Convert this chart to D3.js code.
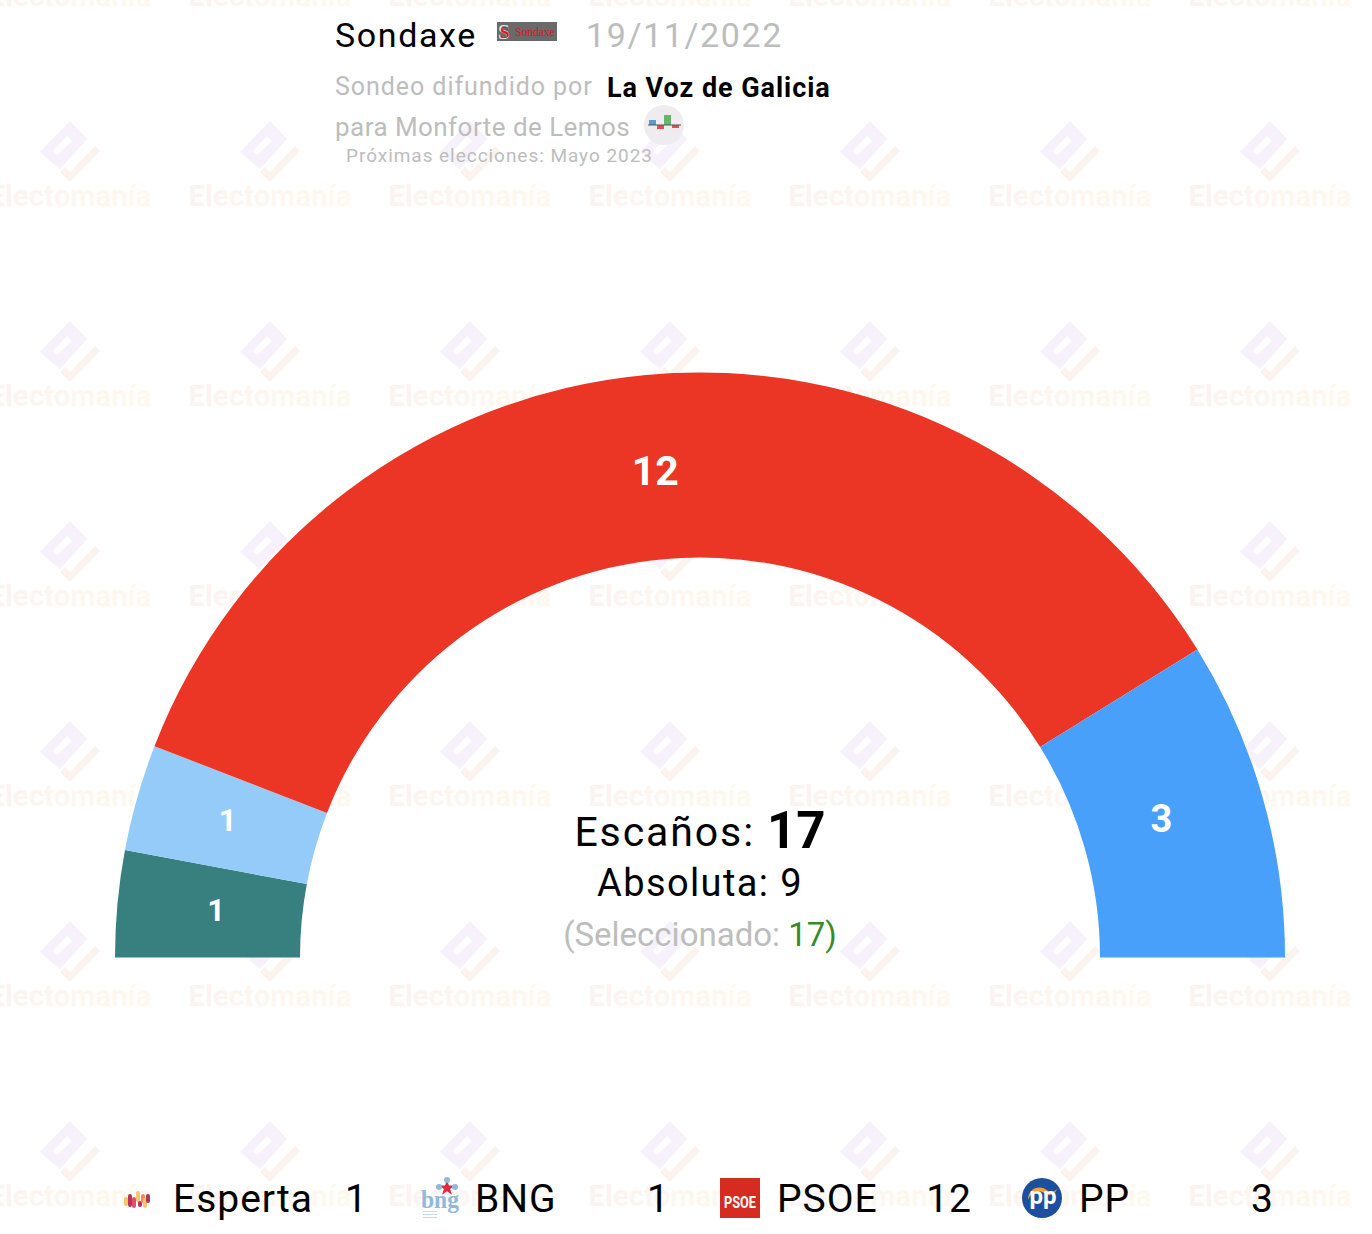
<!DOCTYPE html>
<html>
<head>
<meta charset="utf-8">
<script src="https://cdn.jsdelivr.net/npm/d3@7"></script>
<style>
  html, body { margin: 0; padding: 0; background: #fff; }
  text { font-family: Roboto, sans-serif; }
</style>
</head>
<body>
<div id="chart"></div>
<script>
const parties = ["Esperta", "BNG", "PSOE", "PP"];
const seats = [1, 1, 12, 3];
const partyColors = ["#37807f", "#94cbf9", "#eb3525", "#48a0fb"];
const labelSizes = [31, 31, 41, 38];
const labelNudgeX = [0, -5, 0, -6];
const labelNudgeY = [-3, -5, -3, -6];

const pollster = "Sondaxe";
const pollDate = "19/11/2022";
const media = "La Voz de Galicia";
const place = "para Monforte de Lemos";
const nextElection = "Próximas elecciones: Mayo 2023";
const totalSeats = 17;
const majority = 9;
const selected = 17;

const width = 1372, height = 1234;
const cx = 700, cy = 957.5, outer = 585, inner = 400, labelRadius = 486;

const svg = d3.select("#chart").append("svg")
  .attr("width", width)
  .attr("height", height)
  .style("display", "block");

// watermark gradient
const defs = svg.append("defs");
const grad = defs.append("linearGradient").attr("id", "wm");
grad.append("stop").attr("offset", "0%").attr("stop-color", "#fcf3f1");
grad.append("stop").attr("offset", "100%").attr("stop-color", "#fff8ee");

// watermark tiles
const tileX = d3.range(70, 1400, 200);
const tileY = d3.range(-48, 1234, 200);
const wm = svg.append("g");
tileY.forEach(y => {
  tileX.forEach(x => {
    const t = wm.append("g").attr("transform", `translate(${x},${y})`);
    t.append("path")
      .attr("d", "M0,-31L17,-13L-10,17L-30,0Z M-17,-1L-13,3L2,-11L-3,-16Z")
      .attr("fill", "#f6f1fa")
      .attr("fill-rule", "evenodd");
    t.append("path")
      .attr("d", "M25,-6L30,-1L0,30L-10,20L-5,15L0,20Z")
      .attr("fill", "#fcf3ef");
    t.append("text")
      .attr("y", 54)
      .attr("text-anchor", "middle")
      .attr("font-size", 29)
      .attr("font-weight", 700)
      .attr("letter-spacing", 0.2)
      .attr("fill", "url(#wm)")
      .text("Electomanía");
  });
});

// header
const head = svg.append("g");
head.append("text").attr("x", 335).attr("y", 47).attr("font-size", 34).attr("letter-spacing", 1.6).text(pollster);
head.append("rect").attr("x", 497).attr("y", 22).attr("width", 60).attr("height", 19).attr("fill", "#6a6a6a");
head.append("text").attr("x", 498).attr("y", 39).attr("font-size", 21).attr("font-weight", 700)
  .style("font-family", "Liberation Serif").attr("fill", "#e3e0e0").text("S");
head.append("text").attr("x", 500).attr("y", 38).attr("font-size", 17).attr("font-weight", 700)
  .style("font-family", "Liberation Serif").attr("fill", "#cf2026").text("S");
head.append("text").attr("x", 515).attr("y", 36).attr("font-size", 11.5)
  .style("font-family", "Liberation Serif").attr("fill", "#c8201f").text(pollster);
head.append("text").attr("x", 586).attr("y", 47).attr("font-size", 34).attr("letter-spacing", 1.6).attr("fill", "#bdbdbd").text(pollDate);
head.append("text").attr("x", 335).attr("y", 95).attr("font-size", 25).attr("letter-spacing", 0.95).attr("fill", "#bdbdbd").text("Sondeo difundido por");
head.append("text").attr("x", 607).attr("y", 97).attr("font-size", 27).attr("letter-spacing", 0.95).attr("font-weight", 700).text(media);
head.append("text").attr("x", 335).attr("y", 136).attr("font-size", 26).attr("letter-spacing", 0.45).attr("fill", "#bdbdbd").text(place);
head.append("circle").attr("cx", 664).attr("cy", 125).attr("r", 20).attr("fill", "#eeecee");
[["#5b9bd5", 649, 120, 7, 5], ["#d9534f", 657, 125, 7, 4], ["#62b96b", 664, 115, 7, 10], ["#d9534f", 672, 125, 7, 3]]
  .forEach(b => head.append("rect").attr("fill", b[0]).attr("x", b[1]).attr("y", b[2]).attr("width", b[3]).attr("height", b[4]));
head.append("rect").attr("x", 648).attr("y", 124.5).attr("width", 33).attr("height", 1).attr("fill", "#555");
head.append("text").attr("x", 346).attr("y", 162).attr("font-size", 19).attr("letter-spacing", 0.96).attr("fill", "#bdbdbd").text(nextElection);

// hemicycle
const color = d3.scaleOrdinal().domain(parties).range(partyColors);
const pie = d3.pie().sort(null).value(d => d.seats)
  .startAngle(-Math.PI / 2).endAngle(Math.PI / 2);
const arc = d3.arc().innerRadius(inner).outerRadius(outer);
const labelArc = d3.arc().innerRadius(labelRadius).outerRadius(labelRadius);
const rows = parties.map((p, i) => ({
  party: p, seats: seats[i], size: labelSizes[i], nx: labelNudgeX[i], ny: labelNudgeY[i]
}));

const hemi = svg.append("g").attr("transform", `translate(${cx},${cy})`);
hemi.selectAll("path")
  .data(pie(rows))
  .enter().append("path")
  .attr("d", arc)
  .attr("fill", d => color(d.data.party));
hemi.selectAll("text")
  .data(pie(rows))
  .enter().append("text")
  .attr("transform", d => {
    const c = labelArc.centroid(d);
    return `translate(${c[0] + d.data.nx},${c[1] + d.data.ny})`;
  })
  .attr("text-anchor", "middle")
  .attr("dy", "0.36em")
  .attr("font-size", d => d.data.size)
  .attr("font-weight", 700)
  .attr("fill", "#fff")
  .text(d => d.data.seats);

// centre text
const mid = svg.append("text").attr("x", cx).attr("y", 846).attr("text-anchor", "middle").attr("font-size", 41);
mid.append("tspan").attr("letter-spacing", 1.9).text("Escaños: ");
mid.append("tspan").attr("font-weight", 700).attr("font-size", 51).attr("dy", 2).text(totalSeats);
svg.append("text").attr("x", cx).attr("y", 896).attr("text-anchor", "middle").attr("font-size", 38).attr("letter-spacing", 1.4)
  .text("Absoluta: " + majority);
const sel = svg.append("text").attr("x", cx).attr("y", 946).attr("text-anchor", "middle").attr("font-size", 33).attr("fill", "#bdbdbd");
sel.append("tspan").text("(Seleccionado: ");
sel.append("tspan").attr("fill", "#3a8a28").text(selected);
sel.append("tspan").attr("fill", "#3a8a28").text(")");

// legend
const legendX = d3.scaleLinear().domain([0, 1]).range([120, 422]);
const legend = svg.append("g").selectAll("g")
  .data(rows)
  .enter().append("g")
  .attr("transform", (d, i) => `translate(${legendX(i)},1212)`);
legend.append("text").attr("x", 53).attr("font-size", 39).attr("letter-spacing", 1).text(d => d.party);
legend.append("text").attr("x", 248).attr("text-anchor", "end").attr("font-size", 39).attr("letter-spacing", 1).text(d => d.seats);

// party logos
const esperta = legend.filter(d => d.party === "Esperta");
[[4, -15, 9, "#f6c667"], [8, -18, 13, "#b8345f"], [12, -15, 11, "#e2506b"], [16, -21, 11, "#f6c667"], [18, -11, 6, "#b8345f"], [21, -18, 9, "#f08a5d"], [23, -14, 10, "#f6c667"], [26, -18, 9, "#a83a5e"]]
  .forEach(p => esperta.append("rect").attr("x", p[0]).attr("y", p[1]).attr("width", 4).attr("height", p[2]).attr("rx", 2).attr("fill", p[3]));

const bng = legend.filter(d => d.party === "BNG");
bng.append("text").attr("x", -1).attr("y", -4).attr("font-size", 26).attr("font-weight", 700)
  .style("font-family", "Liberation Serif").attr("fill", "#8fb9dd").attr("textLength", 38).attr("lengthAdjust", "spacingAndGlyphs").text("bng");
bng.append("path").attr("d", d3.symbol(d3.symbolStar, 80)()).attr("transform", "translate(25,-24)").attr("fill", "#e0283f");
bng.append("circle").attr("cx", 25).attr("cy", -32).attr("r", 3).attr("fill", "#8fb9dd");
bng.append("circle").attr("cx", 17).attr("cy", -25).attr("r", 3).attr("fill", "#8fb9dd");
bng.append("circle").attr("cx", 33).attr("cy", -25).attr("r", 3).attr("fill", "#8fb9dd");
[0, 3, 6].forEach(y => bng.append("rect").attr("x", 1).attr("y", y - 1).attr("width", 14).attr("height", 1).attr("fill", "#c5d9ea"));

const psoe = legend.filter(d => d.party === "PSOE");
psoe.append("rect").attr("x", -4).attr("y", -34).attr("width", 40).attr("height", 40).attr("fill", "#d52b21");
psoe.append("text").attr("x", 16).attr("y", -4).attr("text-anchor", "middle").attr("font-size", 16).attr("font-weight", 700)
  .attr("fill", "#fff").attr("textLength", 32).attr("lengthAdjust", "spacingAndGlyphs").text("PSOE");

const pp = legend.filter(d => d.party === "PP");
pp.append("circle").attr("cx", 16).attr("cy", -14).attr("r", 20).attr("fill", "#1d4f9e");
pp.append("path").attr("d", "M2,-12C2,-24 14,-28 22,-21C25,-19 28,-20 31,-23C28,-16 22,-16 18,-19C12,-23 5,-20 2,-12Z").attr("fill", "#f2a33a");
pp.append("text").attr("x", 17).attr("y", -8).attr("text-anchor", "middle").attr("font-size", 24).attr("font-weight", 700)
  .attr("fill", "#fff").text("pp");
</script>
</body>
</html>
